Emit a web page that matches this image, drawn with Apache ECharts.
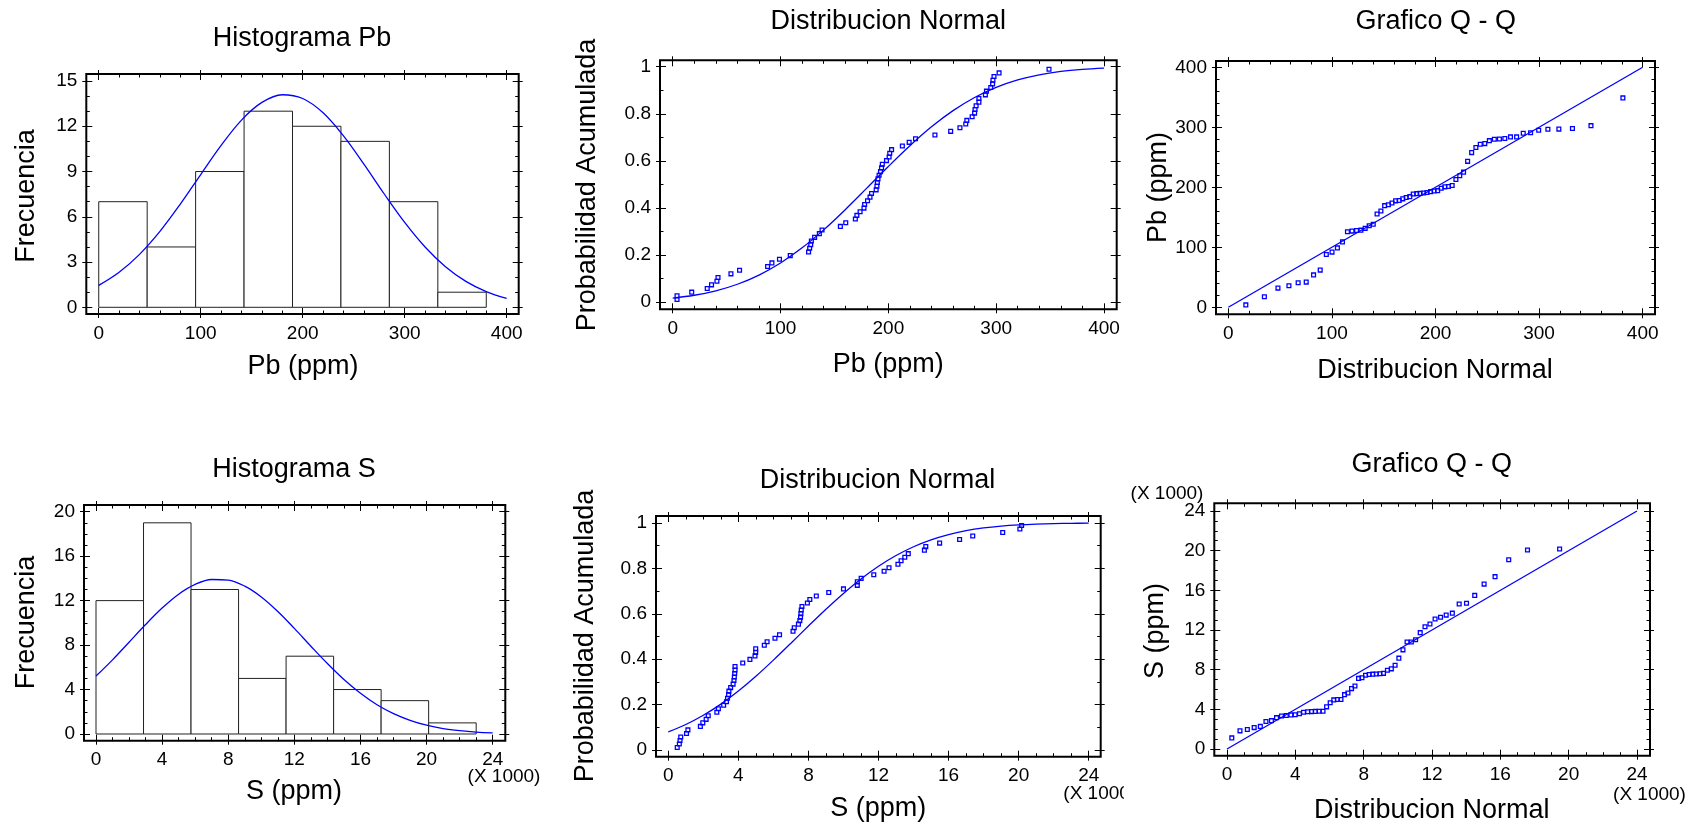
<!DOCTYPE html>
<html>
<head>
<meta charset="utf-8">
<script src="https://cdn.jsdelivr.net/npm/echarts@6/dist/echarts.min.js"></script>
<style>
  html, body { margin: 0; padding: 0; background: #ffffff; }
  #wrap { position: relative; width: 1703px; height: 826px; overflow: hidden; background: #fff; }
  .panel { position: absolute; overflow: hidden; }
</style>
</head>
<body>
<div id="wrap">
  <div class="panel" id="p1" style="left:0px;top:0px;width:562px;height:413px"></div>
  <div class="panel" id="p2" style="left:562px;top:0px;width:562px;height:413px"></div>
  <div class="panel" id="p3" style="left:1124px;top:0px;width:579px;height:413px"></div>
  <div class="panel" id="p4" style="left:0px;top:413px;width:562px;height:413px"></div>
  <div class="panel" id="p5" style="left:562px;top:413px;width:562px;height:413px"></div>
  <div class="panel" id="p6" style="left:1124px;top:413px;width:579px;height:413px"></div>
</div>
<script>
// ---------------- DATA ----------------
// Pb histogram
const pbBinEdges = [0, 47.5, 95, 142.5, 190, 237.5, 285, 332.5, 380];
const pbCounts = [7, 4, 9, 13, 12, 11, 7, 1];
// S histogram (x 1000 ppm)
const sBinEdges = [0, 2.875, 5.75, 8.625, 11.5, 14.375, 17.25, 20.125, 23];
const sCounts = [12, 19, 13, 5, 7, 4, 3, 1];

// fitted normal curves
const pbCurveX = [0,20,40,60,80,100,120,140,160,180,200,220,240,260,280,300,320,340,360,380,400];
const pbHistCurve = [1.45,2.32,3.51,5.03,6.84,8.80,10.73,12.41,13.58,14.09,13.84,12.89,11.36,9.49,7.51,5.63,4.00,2.69,1.72,1.04,0.59];
const pbCdfCurve = [0.0164,0.0287,0.0476,0.0755,0.1145,0.1658,0.2302,0.3065,0.3924,0.4838,0.5761,0.6642,0.7444,0.8133,0.8691,0.9123,0.9438,0.9656,0.9799,0.9888,0.9941];
const sCurveX = [0,1,2,3,4,5,6,7,8,9,10,11,12,13,14,15,16,17,18,19,20,21,22,23,24];
const sHistCurve = [5.21,6.67,8.26,9.85,11.33,12.58,13.46,13.90,13.85,13.30,12.33,11.02,9.50,7.90,6.34,4.90,3.66,2.63,1.83,1.23,0.79,0.49,0.30,0.17,0.10];
const sCdfCurve = [0.0802,0.1124,0.1530,0.2022,0.2598,0.3249,0.3959,0.4705,0.5461,0.6201,0.6899,0.7536,0.8094,0.8567,0.8954,0.9258,0.9490,0.9660,0.9781,0.9863,0.9917,0.9951,0.9972,0.9985,0.9992];

// sorted observations
const pbSorted = [4,4,17.6,32,36,41,42,54,62,88,
  92,99,109,126,127,128,128.6,131.6,136,138.5,
  155.5,160.5,169.4,170.8,173.8,177.4,178,180.7,183,184.4,
  188.7,189.4,189.8,190.4,191.4,192.7,193.7,194.4,198.3,200.7,
  201.3,203,213,219.3,225.2,243.2,257.8,266.4,271.8,272.8,
  277.7,280,280.4,281.4,284,284,290,291,295,296.7,
  297,298,302.7,349];
const sSorted = [0.51,0.63,0.67,0.71,1.04,1.12,1.83,1.97,2.16,2.28,
  2.77,2.86,3.16,3.32,3.38,3.44,3.46,3.56,3.70,3.75,
  3.77,3.79,3.81,3.81,4.25,4.66,4.95,4.99,4.99,5.48,
  5.64,6.09,6.35,7.12,7.19,7.43,7.51,7.55,7.57,7.59,
  7.63,7.94,8.08,8.45,9.16,10.00,10.79,10.79,11.01,11.73,
  12.32,12.60,13.11,13.29,13.50,13.70,14.62,14.70,15.49,16.63,
  17.38,19.09,20.07,20.17];
// cumulative probability of each ranked observation
const probAcum = [0.0109,0.0264,0.0419,0.0575,0.0730,0.0885,0.1040,0.1196,0.1351,0.1506,
  0.1661,0.1817,0.1972,0.2127,0.2283,0.2438,0.2593,0.2748,0.2904,0.3059,
  0.3214,0.3370,0.3525,0.3680,0.3835,0.3991,0.4146,0.4301,0.4457,0.4612,
  0.4767,0.4922,0.5078,0.5233,0.5388,0.5543,0.5699,0.5854,0.6009,0.6165,
  0.6320,0.6475,0.6630,0.6786,0.6941,0.7096,0.7252,0.7407,0.7562,0.7717,
  0.7873,0.8028,0.8183,0.8339,0.8494,0.8649,0.8804,0.8960,0.9115,0.9270,
  0.9425,0.9581,0.9736,0.9891];
// normal quantiles (Q-Q x positions)
const qqPbX = [-13.9,16.9,34.8,47.9,58.5,67.4,75.2,82.3,88.7,94.6,
  100.1,105.3,110.2,115.0,119.4,123.8,128.0,132.1,136.0,139.9,
  143.6,147.3,150.9,154.5,158.0,161.5,164.9,168.4,171.7,175.2,
  178.5,181.9,185.1,188.5,191.8,195.3,198.6,202.1,205.5,209.0,
  212.5,216.1,219.7,223.4,227.1,231.0,234.9,239.0,243.2,247.6,
  252.0,256.8,261.7,266.9,272.4,278.3,284.7,291.8,299.6,308.5,
  319.1,332.2,350.1,380.9];
const qqSX = [-4.69,-2.81,-1.71,-0.91,-0.27,0.28,0.76,1.19,1.59,1.95,
  2.28,2.60,2.90,3.19,3.47,3.74,3.99,4.24,4.48,4.72,
  4.95,5.17,5.39,5.62,5.83,6.04,6.25,6.46,6.67,6.88,
  7.08,7.29,7.49,7.70,7.90,8.11,8.32,8.53,8.74,8.95,
  9.16,9.39,9.62,9.84,10.06,10.30,10.54,10.79,11.04,11.31,
  11.59,11.88,12.18,12.50,12.83,13.19,13.59,14.02,14.50,15.05,
  15.69,16.49,17.59,19.47];
const pbRefLine = [0, 400];
const sRefLine = [0, 24];

// tick labels
const pbTicks = [0,100,200,300,400];
const pbMinor = [0,20,40,60,80,100,120,140,160,180,200,220,240,260,280,300,320,340,360,380,400];
const freqPbTicks = [0,3,6,9,12,15];
const freqPbMinor = [0,1,2,3,4,5,6,7,8,9,10,11,12,13,14,15];
const probTicks = [0,0.2,0.4,0.6,0.8,1];
const probMinor = [0,0.1,0.2,0.3,0.4,0.5,0.6,0.7,0.8,0.9,1];
const sTicks = [0,4,8,12,16,20,24];
const sMinor = [0,1,2,3,4,5,6,7,8,9,10,11,12,13,14,15,16,17,18,19,20,21,22,23,24];
const freqSTicks = [0,4,8,12,16,20];
const freqSMinor = [0,1,2,3,4,5,6,7,8,9,10,11,12,13,14,15,16,17,18,19,20];

// ---------------- RENDERING ----------------
const FONT = "'Liberation Sans', Arial, Helvetica, sans-serif";
const BLUE = '#0000ff';

function axesFor(dim, min, max, major, minor, labelMargin) {
  const sides = dim === 'x' ? ['bottom', 'top'] : ['left', 'right'];
  const out = [];
  sides.forEach((pos, si) => {
    const base = {
      type: 'value', position: pos, min: min, max: max, scale: false,
      axisLine: { show: false, onZero: false },
      splitLine: { show: false }, splitArea: { show: false },
      minorTick: { show: false }, axisPointer: { show: false }, silent: true
    };
    out.push(Object.assign({}, base, {
      axisTick: { show: true, inside: true, length: 6, customValues: major, lineStyle: { color: '#000', width: 1 } },
      axisLabel: si === 0 ? {
        show: true, customValues: major, margin: labelMargin, color: '#000',
        fontSize: 19, fontFamily: FONT, formatter: v => String(v)
      } : { show: false }
    }));
    out.push(Object.assign({}, base, {
      axisTick: { show: true, inside: false, length: 4, customValues: major, lineStyle: { color: '#000', width: 1 } },
      axisLabel: { show: false }
    }));
    out.push(Object.assign({}, base, {
      axisTick: { show: true, inside: true, length: 3.5, customValues: minor, lineStyle: { color: '#000', width: 1 } },
      axisLabel: { show: false }
    }));
  });
  return out;
}

function txt(text, x, y, size, rot, align) {
  return {
    type: 'text', x: x, y: y, rotation: rot || 0, silent: true,
    style: {
      text: text, fill: '#000', font: size + 'px ' + FONT,
      align: align || 'center', verticalAlign: 'middle',
      textAlign: align || 'center', textVerticalAlign: 'middle'
    }
  };
}

function histSeries(edges, counts) {
  return {
    type: 'custom', silent: true, clip: true,
    data: counts.map((c, i) => [edges[i], edges[i + 1], c]),
    encode: { x: [0, 1], y: 2 },
    renderItem: function (params, api) {
      const a = api.coord([api.value(0), api.value(2)]);
      const b = api.coord([api.value(1), 0]);
      return {
        type: 'rect',
        shape: { x: a[0], y: a[1], width: b[0] - a[0], height: b[1] - a[1] },
        style: { fill: '#ffffff', stroke: '#222', lineWidth: 1 }
      };
    }
  };
}

function curveSeries(xs, ys) {
  return {
    type: 'line', silent: true, smooth: 0.35, showSymbol: false, symbol: 'none',
    data: xs.map((x, i) => [x, ys[i]]),
    lineStyle: { color: BLUE, width: 1.3 }, itemStyle: { color: BLUE }, z: 5
  };
}

function pointSeries(pts) {
  return {
    type: 'scatter', silent: true, clip: true, symbol: 'rect', symbolSize: 3.8,
    data: pts,
    itemStyle: { color: 'rgba(255,255,255,0)', borderColor: BLUE, borderWidth: 1.3, opacity: 1 },
    z: 6
  };
}

function panel(id, cfg) {
  const chart = echarts.init(document.getElementById(id), null, { renderer: 'canvas' });
  chart.setOption({
    animation: false,
    backgroundColor: '#ffffff',
    textStyle: { fontFamily: FONT },
    grid: {
      left: cfg.grid[0], top: cfg.grid[1], width: cfg.grid[2], height: cfg.grid[3],
      show: true, borderColor: '#000', borderWidth: 2, backgroundColor: 'rgba(0,0,0,0)',
      containLabel: false, outerBoundsMode: 'none'
    },
    xAxis: axesFor('x', cfg.x[0], cfg.x[1], cfg.xTicks, cfg.xMinor, 10),
    yAxis: axesFor('y', cfg.y[0], cfg.y[1], cfg.yTicks, cfg.yMinor, 9),
    series: cfg.series,
    graphic: cfg.texts
  });
}

// Panel 1: Histograma Pb
panel('p1', {
  grid: [86.3, 74, 432.4, 240],
  x: [-12.2, 411.8], y: [-0.444, 15.464],
  xTicks: pbTicks, xMinor: pbMinor, yTicks: freqPbTicks, yMinor: freqPbMinor,
  series: [histSeries(pbBinEdges, pbCounts), curveSeries(pbCurveX, pbHistCurve)],
  texts: [
    txt('Histograma Pb', 302, 39, 27),
    txt('Pb (ppm)', 303, 367, 27),
    txt('Frecuencia', 26.5, 196, 27, Math.PI / 2)
  ]
});

// Panel 2: Distribucion Normal (Pb)
panel('p2', {
  grid: [98, 60.3, 456.7, 249],
  x: [-11.8, 411.8], y: [-0.031, 1.0272],
  xTicks: pbTicks, xMinor: pbMinor, yTicks: probTicks, yMinor: probMinor,
  series: [curveSeries(pbCurveX, pbCdfCurve), pointSeries(pbSorted.map((v, i) => [v, probAcum[i]]))],
  texts: [
    txt('Distribucion Normal', 326.3, 22, 27),
    txt('Pb (ppm)', 326.3, 365, 27),
    txt('Probabilidad Acumulada', 25.5, 185, 27, Math.PI / 2)
  ]
});

// Panel 3: Grafico Q - Q (Pb); the original omits quantiles below the origin
panel('p3', {
  grid: [92, 61, 439, 253.3],
  x: [-11.9, 411.9], y: [-11.7, 410.5],
  xTicks: pbTicks, xMinor: pbMinor, yTicks: pbTicks, yMinor: pbMinor,
  series: [
    { type: 'line', silent: true, showSymbol: false, symbol: 'none',
      data: [[pbRefLine[0], pbRefLine[0]], [pbRefLine[1], pbRefLine[1]]],
      lineStyle: { color: BLUE, width: 1.3 }, z: 5 },
    pointSeries(qqPbX.map((q, i) => [q, pbSorted[i]]).filter(p => p[0] >= 0))
  ],
  texts: [
    txt('Grafico Q - Q', 311.8, 22, 27),
    txt('Distribucion Normal', 311, 371, 27),
    txt('Pb (ppm)', 34.5, 187.5, 27, Math.PI / 2)
  ]
});

// Panel 4: Histograma S
panel('p4', {
  grid: [84, 92, 421.3, 235.7],
  x: [-0.726, 24.762], y: [-0.603, 20.603],
  xTicks: sTicks, xMinor: sMinor, yTicks: freqSTicks, yMinor: freqSMinor,
  series: [histSeries(sBinEdges, sCounts), curveSeries(sCurveX, sHistCurve)],
  texts: [
    txt('Histograma S', 294, 57, 27),
    txt('S (ppm)', 294, 378.5, 27),
    txt('Frecuencia', 26.5, 209.5, 27, Math.PI / 2),
    txt('(X 1000)', 504, 364, 19)
  ]
});

// Panel 5: Distribucion Normal (S)
panel('p5', {
  grid: [94, 103, 444.7, 240.7],
  x: [-0.702, 24.685], y: [-0.0295, 1.0308],
  xTicks: sTicks, xMinor: sMinor, yTicks: probTicks, yMinor: probMinor,
  series: [curveSeries(sCurveX, sCdfCurve), pointSeries(sSorted.map((v, i) => [v, probAcum[i]]))],
  texts: [
    txt('Distribucion Normal', 315.5, 67.5, 27),
    txt('S (ppm)', 316.3, 396, 27),
    txt('Probabilidad Acumulada', 23.5, 223, 27, Math.PI / 2),
    txt('(X 1000)', 501.3, 380.3, 19, 0, 'left')
  ]
});

// Panel 6: Grafico Q - Q (S)
panel('p6', {
  grid: [90.3, 90.3, 435.7, 252.4],
  x: [-0.744, 24.761], y: [-0.676, 24.776],
  xTicks: sTicks, xMinor: sMinor, yTicks: sTicks, yMinor: sMinor,
  series: [
    { type: 'line', silent: true, showSymbol: false, symbol: 'none',
      data: [[sRefLine[0], sRefLine[0]], [sRefLine[1], sRefLine[1]]],
      lineStyle: { color: BLUE, width: 1.3 }, z: 5 },
    pointSeries(qqSX.map((q, i) => [q, sSorted[i]]).filter(p => p[0] >= 0))
  ],
  texts: [
    txt('Grafico Q - Q', 307.8, 52, 27),
    txt('Distribucion Normal', 307.8, 397.5, 27),
    txt('S (ppm)', 32, 218, 27, Math.PI / 2),
    txt('(X 1000)', 43, 81, 19),
    txt('(X 1000)', 525.5, 381.3, 19)
  ]
});
</script>
</body>
</html>
